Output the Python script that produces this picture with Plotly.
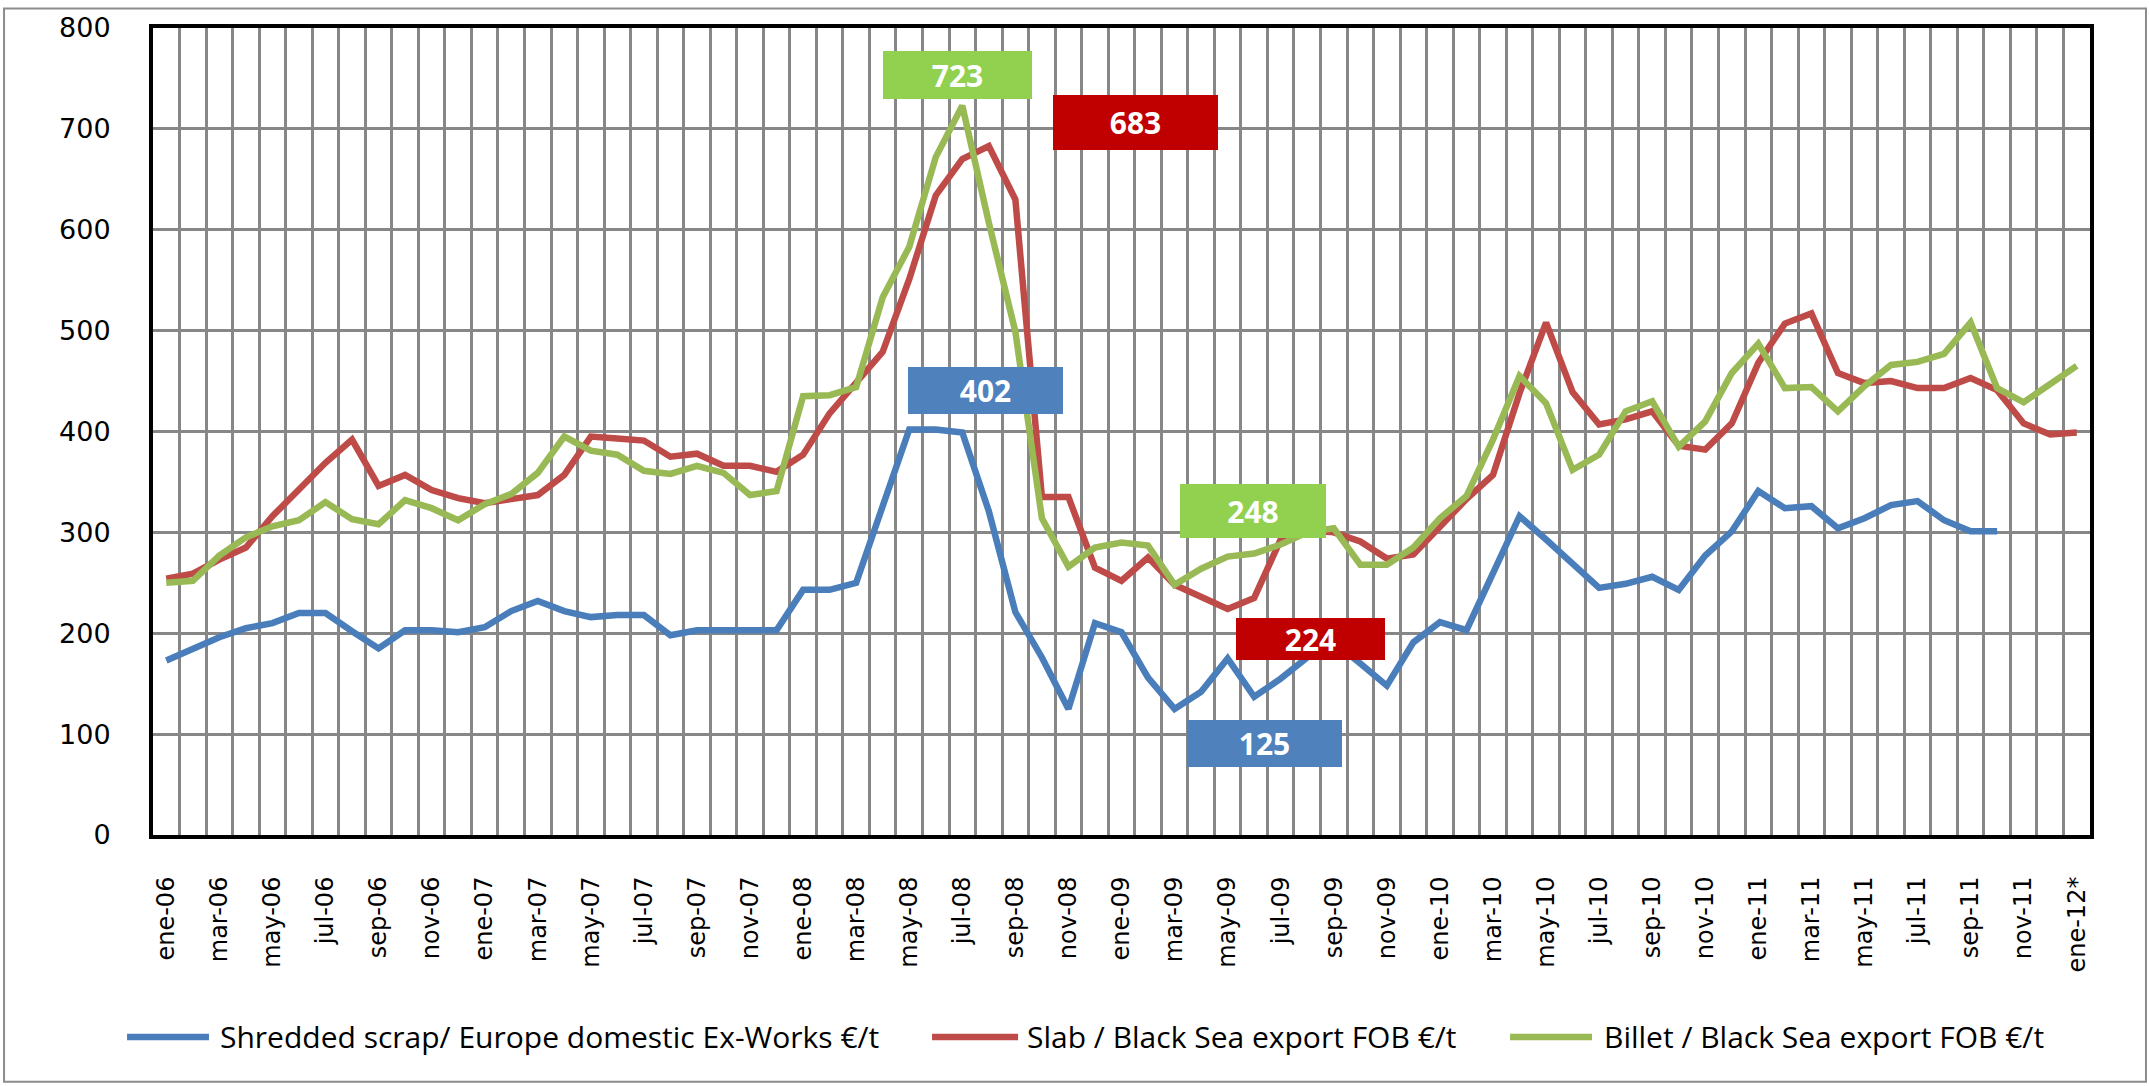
import plotly.graph_objects as go

# meses ene-06 .. ene-12*
mes = ['ene', 'feb', 'mar', 'abr', 'may', 'jun', 'jul', 'ago', 'sep', 'oct', 'nov', 'dic']
months = [f'{m}-{y:02d}' for y in range(6, 12) for m in mes] + ['ene-12*']

# Shredded scrap / Europe domestic Ex-Works €/t
scrap = [173, 185, 196, 205, 210, 220, 220, 202, 185, 203, 203, 201,
         206, 222, 232, 222, 216, 218, 218, 198, 203, 203, 203, 203,
         243, 243, 250, 328, 402, 402, 399, 321, 221, 176, 125, 210,
         201, 156, 125, 142, 175, 137, 155, 176, 191, 170, 148, 191,
         211, 203, 259, 316, 293, 268, 245, 249, 256, 243, 277, 301,
         341, 324, 326, 304, 314, 327, 331, 312, 301, 301, None, None,
         None]

# Slab / Black Sea export FOB €/t
slab = [254, 259, 273, 285, 316, 342, 369, 392, 346, 357, 342, 334,
        329, 333, 337, 357, 395, 393, 391, 375, 378, 366, 366, 360,
        377, 418, 449, 479, 551, 634, 670, 683, 630, 335, 335, 265,
        252, 275, 248, 236, 224, 235, 293, 302, 300, 291, 274, 278,
        306, 333, 357, 438, 508, 439, 407, 412, 420, 386, 382, 408,
        468, 507, 517, 458, 448, 450, 443, 443, 453, 441, 408, 397,
        399]

# Billet / Black Sea export FOB €/t
billet = [250, 252, 277, 295, 306, 312, 330, 313, 308, 332, 324, 312,
          328, 338, 359, 395, 381, 377, 361, 358, 366, 359, 337, 341,
          435, 436, 444, 533, 583, 672, 723, 607, 499, 314, 266, 285,
          290, 287, 248, 264, 276, 279, 288, 300, 304, 268, 268, 285,
          314, 336, 392, 455, 428, 362, 377, 420, 430, 385, 410, 458,
          487, 443, 444, 420, 445, 466, 469, 477, 508, 443, 429, 447,
          465]

series = [
    ('Shredded scrap/ Europe domestic Ex-Works €/t', scrap, '#4A7EBB'),
    ('Slab / Black Sea export FOB €/t', slab, '#BE4B48'),
    ('Billet / Black Sea export FOB €/t', billet, '#98B954'),
]

x = list(range(len(months)))
grid = '#878787'

fig = go.Figure()
for name, vals, color in series:
    fig.add_trace(go.Scatter(x=x, y=vals, mode='lines', name=name,
                             line=dict(color=color, width=6.5),
                             connectgaps=False, showlegend=False))

# etiquetas de valores destacados
after = 33  # desde oct-08
labels = [
    (max(billet), 29.82, 753.6, 149, 48, '#92D050'),
    (max(slab), 36.54, 706.7, 165, 55, '#C00000'),
    (max(v for v in scrap if v is not None), 30.88, 441.0, 155, 47, '#4F81BD'),
    (min(billet[after:]), 40.97, 321.0, 146, 54, '#92D050'),
    (min(slab[after:]), 43.14, 194.6, 149, 42, '#C00000'),
    (min(v for v in scrap if v is not None), 41.4, 90.4, 155, 47, '#4F81BD'),
]
for val, lx, ly, w, h, bg in labels:
    fig.add_annotation(x=lx, y=ly, xref='x', yref='y', text=str(val),
                       showarrow=False, width=w, height=h, bgcolor=bg,
                       borderpad=0, borderwidth=0, valign='middle',
                       font=dict(family='Open Sans', size=30, color='white', weight='bold'))

# leyenda manual (lineas largas como en Excel)
leg_y = -0.2503
leg_items = [(-0.0134, 0.0289, 0.0336), (0.4022, 0.4466, 0.4502), (0.7006, 0.7429, 0.7480)]
for (name, vals, color), (x0, x1, tx) in zip(series, leg_items):
    fig.add_shape(type='line', xref='paper', yref='paper', x0=x0, x1=x1, y0=leg_y, y1=leg_y,
                  line=dict(color=color, width=6.5))
    fig.add_annotation(x=tx, y=leg_y, xref='paper', yref='paper', text=name,
                       showarrow=False, xanchor='left', yanchor='middle',
                       font=dict(family='Open Sans', size=30, color='black'))

# borde exterior del grafico
fig.add_shape(type='rect', xref='paper', yref='paper', x0=-0.0769, x1=1.0289,
              y0=-0.3058, y1=1.0241, line=dict(color='#8c8c8c', width=2), layer='below')

fig.update_xaxes(
    range=[-0.5, len(months) - 0.5],
    tickmode='array', tickvals=x[::2], ticktext=months[::2],
    tickangle=-90, ticks='', showgrid=False, zeroline=False,
    minor=dict(tickvals=[k - 0.5 for k in range(1, len(months))], showgrid=True,
               gridcolor=grid, gridwidth=2.5, ticks=''),
    showline=True, linecolor='black', linewidth=4, mirror=True,
    tickfont=dict(family='DejaVu Sans', size=24, color='black'),
    ticklabelstandoff=28,
)
fig.update_yaxes(
    range=[0, 800], dtick=100, showgrid=True, gridcolor=grid, gridwidth=2.5,
    zeroline=False, ticks='',
    showline=True, linecolor='black', linewidth=4, mirror=True,
    tickfont=dict(family='DejaVu Sans', size=27, color='black'),
    ticklabelstandoff=33,
)

fig.update_layout(
    width=2149, height=1086,
    margin=dict(l=153, r=59, t=24, b=251),
    paper_bgcolor='white', plot_bgcolor='white',
    hovermode='x unified',
)

fig.write_html("out.html", config={'displayModeBar': False},
               post_script="document.body.style.margin='0';document.body.style.overflow='hidden';")
